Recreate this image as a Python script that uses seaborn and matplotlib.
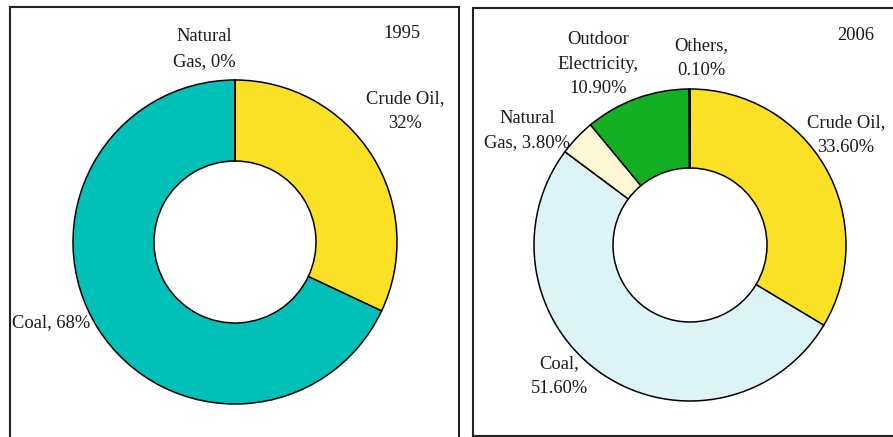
"""
Energy consumption mix, 1995 vs 2006, as two donut charts.
"""
import numpy as np
import matplotlib
matplotlib.use("Agg")
import matplotlib.pyplot as plt
import seaborn as sns

# 1995 mix (clockwise from 12 o'clock)
labels_1995 = ["Crude Oil", "Coal", "Natural Gas"]
shares_1995 = [32, 68, 0]
colors_1995 = ["#FAE125", "#00C0B8", "#FFF8D5"]

# 2006 mix (clockwise from 12 o'clock)
labels_2006 = ["Crude Oil", "Coal", "Natural Gas", "Outdoor Electricity", "Others"]
shares_2006 = [33.6, 51.6, 3.8, 10.9, 0.1]
colors_2006 = ["#FAE125", "#DCF4F5", "#FFF8D5", "#14B024", "#FFFFFF"]

sns.set_theme(style="white")
plt.rcParams["font.family"] = ["Liberation Serif", "DejaVu Serif"]

W, H = 893, 437
fig = plt.figure(figsize=(W / 100, H / 100), dpi=100)


def panel(x0, x1, y_top, y_bot):
    """Axes whose data units are pixels, y measured upward from figure bottom."""
    ax = fig.add_axes([x0 / W, (H - y_bot) / H, (x1 - x0) / W, (y_bot - y_top) / H])
    ax.set_xlim(x0, x1)
    ax.set_ylim(H - y_bot, H - y_top)
    ax.set_xticks([])
    ax.set_yticks([])
    for s in ax.spines.values():
        s.set_color("#222222")
        s.set_linewidth(1.5)
    return ax


def donut(ax, shares, colors, cx, cy, r, inner):
    ax.pie(shares, colors=colors, startangle=90, counterclock=False,
           center=(cx, H - cy), radius=r, frame=True,
           wedgeprops=dict(width=r - inner, edgecolor="black", linewidth=1.1))
    ax.set_aspect("auto")


txt = dict(fontsize=13.3, color="#1a1a1a", ha="center", va="center", linespacing=1.6)

# left panel: 1995
ax1 = panel(10, 459, 7, 441)
donut(ax1, shares_1995, colors_1995, 235, 242, 162, 81)
ax1.set_xlim(10, 459)
ax1.set_ylim(H - 441, H - 7)
ax1.text(204, H - 49, f"Natural\nGas, {shares_1995[2]}%", **txt)
ax1.text(402, H - 33, "1995", **txt)
ax1.text(405, H - 111, f"Crude Oil,\n{shares_1995[0]}%", **txt)
ax1.text(51, H - 323, f"Coal, {shares_1995[1]}%", **txt)

# right panel: 2006
txt2 = dict(txt, linespacing=1.55)
ax2 = panel(473, 897, 8, 436)
donut(ax2, shares_2006, colors_2006, 690, 245, 156, 77)
ax2.set_xlim(473, 897)
ax2.set_ylim(H - 436, H - 8)
ax2.text(856, H - 35, "2006", **txt2)
ax2.text(598, H - 64, f"Outdoor\nElectricity,\n{shares_2006[3]:.2f}%", **txt2)
ax2.text(701, H - 58, f"Others,\n{shares_2006[4]:.2f}%", **txt2)
ax2.text(527, H - 131, f"Natural\nGas, {shares_2006[2]:.2f}%", **txt2)
ax2.text(846, H - 135, f"Crude Oil,\n{shares_2006[0]:.2f}%", **txt2)
ax2.text(559, H - 376, f"Coal,\n{shares_2006[1]:.2f}%", **txt2)

fig.savefig("out.png", dpi=100)
